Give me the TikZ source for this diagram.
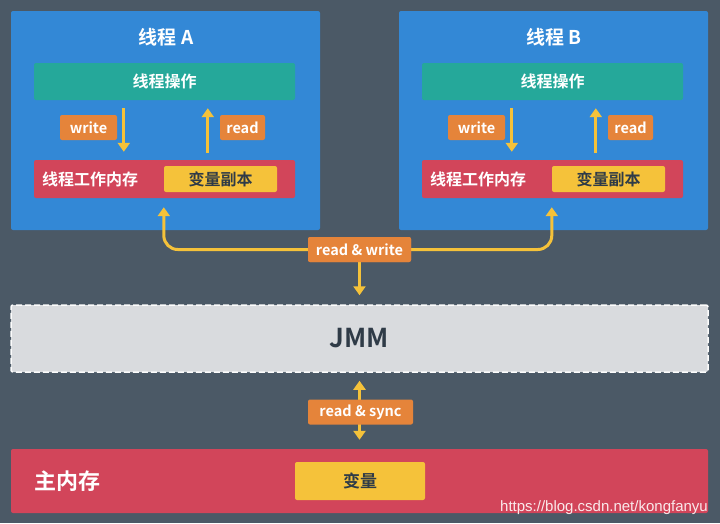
\documentclass[tikz,border=0pt]{standalone}
\usepackage{fontspec}
\setmainfont{Noto Sans CJK SC}[BoldFont={* Bold}]
\newfontfamily\wmfont{Liberation Sans}
\usetikzlibrary{arrows.meta,positioning,calc}
\definecolor{jmbg}{HTML}{4B5966}
\definecolor{jmblue}{HTML}{3388D6}
\definecolor{jmteal}{HTML}{25A89A}
\definecolor{jmred}{HTML}{D2455A}
\definecolor{jmyellow}{HTML}{F5C23A}
\definecolor{jmorange}{HTML}{E5843A}
\definecolor{jmgrey}{HTML}{D9DBDE}
\definecolor{jmdark}{HTML}{2F3B47}
\tikzset{
  thread/.style={fill=jmblue,rounded corners=2pt,minimum width=309pt,
                 minimum height=219pt,inner sep=0pt},
  title/.style={text=white,font=\fontsize{19}{22}\selectfont\bfseries},
  opbox/.style={fill=jmteal,rounded corners=2pt,minimum width=261pt,
                minimum height=37pt,inner sep=0pt,text=white,
                font=\fontsize{16}{18}\selectfont\bfseries},
  membox/.style={fill=jmred,rounded corners=2pt,minimum width=261pt,
                 minimum height=38pt,inner sep=0pt},
  memtxt/.style={text=white,inner sep=0pt,font=\fontsize{16}{18}\selectfont\bfseries},
  varbox/.style={fill=jmyellow,rounded corners=2pt,minimum width=113pt,
                 minimum height=26pt,inner sep=0pt,text=jmdark,
                 font=\fontsize{16}{18}\selectfont\bfseries},
  tag/.style={fill=jmorange,rounded corners=2pt,minimum height=25pt,
              inner xsep=6pt,inner ysep=0pt,text=white,
              font=\fontsize{14.5}{16}\selectfont\bfseries},
  flow/.style={draw=jmyellow,line width=3pt,
               -{Triangle[length=9pt,width=12pt]},shorten >=8pt},
  both/.style={draw=jmyellow,line width=3pt,
               {Triangle[length=9pt,width=12pt]}-{Triangle[length=9pt,width=12pt]}},
  wide/.style={minimum width=697pt,inner sep=0pt,rounded corners=2pt},
}
\begin{document}
\begin{tikzpicture}[x=1pt,y=-1pt]
  \fill[jmbg] (0,0) rectangle (720,523);
  \useasboundingbox (0,0) rectangle (720,523);
  % the two threads
  \foreach \t/\dx in {A/0,B/388}{
    \node[thread] (thread\t) at (165.5+\dx,120.5) {};
    \node[title] (title\t) at (166+\dx,37) {线程 \t};
    \node[opbox] (op\t) at (164.5+\dx,81.5) {线程操作};
    \node[membox] (mem\t) at (164.5+\dx,179) {};
    \node[memtxt,anchor=west] (memtxt\t) at (42+\dx,179) {线程工作内存};
    \node[varbox] (copy\t) at (220.5+\dx,179) {变量副本};
    \node[tag,minimum width=57pt] (write\t) at (88.5+\dx,127.5) {write};
    \node[tag,minimum width=45pt] (read\t) at (242.5+\dx,127.5) {read};
    \draw[flow] ($(op\t.south west)+(90,8)$) -- ($(mem\t.north west)+(90,0)$);
    \draw[flow] ($(mem\t.north west)+(174,-7)$) -- ($(op\t.south west)+(174,0)$);
  }
  % JMM and main memory
  \node[wide,fill=jmgrey,draw=white!92!jmgrey,dash pattern=on 6pt off 3pt,
        line width=1.5pt,minimum height=67pt,text=jmdark,
        font=\fontsize{26}{30}\selectfont\bfseries] (jmm) at (359.5,338.5) {JMM};
  \node[wide,fill=jmred,minimum height=64pt] (main) at (359.5,481) {};
  \node[anchor=west,text=white,inner sep=0pt,
        font=\fontsize{22}{26}\selectfont\bfseries] (maintxt) at (34,481) {主内存};
  \node[varbox,minimum width=130pt,minimum height=38pt,
        font=\fontsize{17}{20}\selectfont\bfseries] (var) at (360,481) {变量};
  % connectors
  \node[tag,inner sep=0pt,minimum width=103pt] (rw) at (359.5,249.5) {};
  \draw[flow,rounded corners=14pt,shorten >=9pt] (rw.west) -| (copyA.west |- memA.south);
  \draw[flow,rounded corners=14pt,shorten >=9pt] (rw.east) -| (copyB.west |- memB.south);
  \draw[flow,shorten >=9pt] (rw.south) -- (jmm.north);
  \node[tag,minimum width=103pt] (rwlab) at (rw) {read \& write};
  \coordinate (rsup) at ($(jmm.south)+(0,8)$);
  \coordinate (rsdown) at ($(main.north)+(0,-9)$);
  \draw[both] (rsup) -- (rsdown);
  \node[tag,minimum width=105pt] (rs) at (360.5,412) {read \& sync};
  \node[anchor=south east,inner sep=0pt,text=white!88!jmred,
        font=\fontsize{15}{17}\selectfont\wmfont] (wm) at (708,515) {https://blog.csdn.net/kongfanyu};
\end{tikzpicture}
\end{document}
